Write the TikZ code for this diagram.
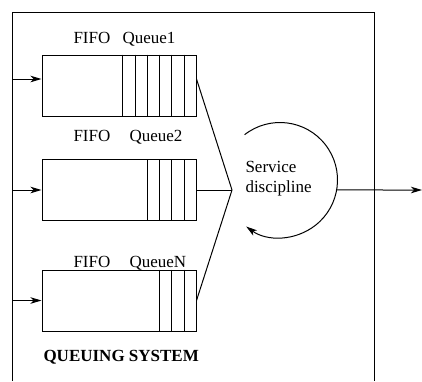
\documentclass[tikz,border=0pt]{standalone}
\usepackage{fontspec}
\setmainfont{Liberation Serif}
\newfontfamily\labelfont{Liberation Serif}
\usetikzlibrary{arrows.meta}
\begin{document}
\begin{tikzpicture}[x=1pt, y=-1pt,
  every path/.style={line width=1pt},
  >={Stealth[length=11pt, width=6.5pt, inset=3pt]},
  queue/.style={draw, line width=1pt, minimum width=154pt, minimum height=61pt, inner sep=0pt},
  lbl/.style={anchor=base west, inner sep=0pt, font=\labelfont\fontsize{17}{20}\selectfont}]
\useasboundingbox (0,0) rectangle (422,381);

% system frame (open at the bottom)
\draw (12,381) -- (12,12) -- (374,12) -- (374,381);

% queues
\node[queue] (q1) at (119,85.5) {};
\node[queue] (q2) at (119,190) {};
\node[queue] (qN) at (119,300.5) {};

% buffer cells at the head of each queue
\foreach \k in {1,...,6}
  \draw ([xshift=-\k*12.3pt]q1.north east) -- ([xshift=-\k*12.3pt]q1.south east);
\foreach \k in {1,...,4}
  \draw ([xshift=-\k*12.3pt]q2.north east) -- ([xshift=-\k*12.3pt]q2.south east);
\foreach \k in {1,...,3}
  \draw ([xshift=-\k*12.3pt]qN.north east) -- ([xshift=-\k*12.3pt]qN.south east);

% labels
\node[lbl] (fifo1) at (73,43) {FIFO};
\node[lbl] (lab1) at (122,43) {Queue1};
\node[lbl] (fifo2) at (73,141.7) {FIFO};
\node[lbl] (lab2) at (129,141.7) {Queue2};
\node[lbl] (fifoN) at (73,267.7) {FIFO};
\node[lbl] (labN) at (129,267.7) {QueueN};
\node[lbl, font=\labelfont\fontsize{17}{20}\selectfont\bfseries] (title) at (43,361.7) {QUEUING SYSTEM};

% arrivals
\coordinate (in1) at (12,79);
\coordinate (in2) at (12,190);
\coordinate (inN) at (12,300.5);
\draw[->] (in1) -- (in1 -| q1.west);
\draw[->] (in2) -- (q2.west);
\draw[->] (inN) -- (qN.west);

% scheduler
\coordinate (hub) at (232,190);
\coordinate (sc) at (280,180);
\draw (q1.east |- in1) -- (hub);
\draw (q2.east) -- (hub);
\draw (qN.east) -- (hub);

\node[anchor=west, inner sep=0pt, align=left, font=\labelfont\fontsize{17}{20}\selectfont] (svc) at (245,179) {Service\\discipline};
\draw[->] ([shift={(128:57.5pt)}]sc) arc[start angle=128, end angle=-126, radius=57.5pt];

% departures
\coordinate (out) at (422,190);
\draw[->] ([shift={(-10:57.5pt)}]sc) -- (out);
\end{tikzpicture}
\end{document}
